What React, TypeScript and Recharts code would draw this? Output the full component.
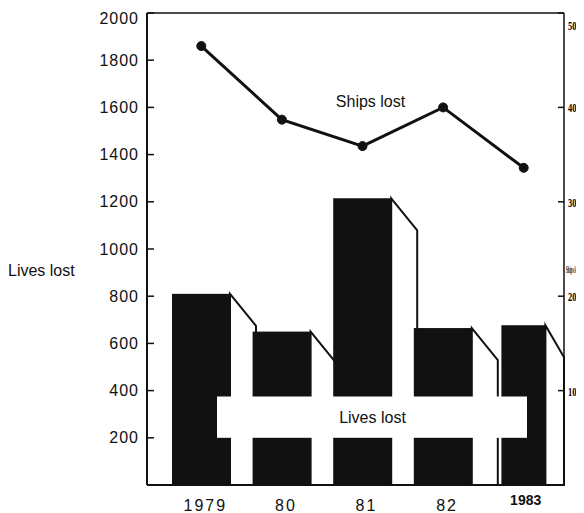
import { ComposedChart, Bar, Line, XAxis, YAxis, ReferenceLine, ReferenceArea, ReferenceDot } from "recharts";

const years = ["1979", "80", "81", "82", "1983"];
const livesLost = [810, 650, 1215, 665, 677];
const shipsLost = [465, 387, 359, 400, 336];

const livesTicks = [200, 400, 600, 800, 1000, 1200, 1400, 1600, 1800, 2000];
const shipsTicks = [100, 200, 300, 400, 500];

// the white "Lives lost" panel: vertical span in lives, horizontal inset from the first/last band
const boxY = [200, 375];
const boxInset = { left: 56, right: 37 };

const data = years.map((year, i) => ({ year, lives: livesLost[i], ships: shipsLost[i] }));

const INK = "#111";
const PLOT_RIGHT = 556;

function BarShape(props: any) {
  const { x, y, width, height, index } = props;
  let w = width;
  let bx = x;
  if (index === years.length - 1) {
    w = 44;
    bx = x + (width - 44) / 2;
  }
  const right = bx + w;
  const dx = Math.min(26, PLOT_RIGHT - right);
  const dy = 32;
  const bottom = y + height;
  return (
    <g>
      <path
        d={`M${right},${y} L${right + dx},${y + dy} L${right + dx},${bottom} L${right},${bottom} Z`}
        fill="#fff"
        stroke={INK}
        strokeWidth={2}
      />
      <rect x={bx} y={y} width={w} height={height} fill={INK} />
    </g>
  );
}

function BoxShape(props: any) {
  const { x, y, width, height } = props;
  return (
    <rect x={x + boxInset.left} y={y} width={width - boxInset.left - boxInset.right} height={height}
      fill="#fff" stroke="none" />
  );
}

function LeftTick({ x, y, payload }: any) {
  const top = payload.value === 2000;
  return (
    <g>
      <line x1={x} x2={x + 7} y1={y} y2={y} stroke={INK} strokeWidth={1.5} />
      <text x={x - 8} y={y} dy={top ? 11 : 5.5} textAnchor="end" fontSize={16} letterSpacing={1} fill={INK}>
        {payload.value}
      </text>
    </g>
  );
}

// the right-hand labels are squeezed narrow, as in the scan
function RightTick({ x, y, payload }: any) {
  const top = payload.value === 500;
  return (
    <g>
      <line x1={x - 6} x2={x} y1={y} y2={y} stroke={INK} strokeWidth={1.5} />
      <g transform={`translate(${x + 4},${y + (top ? 17 : 5)}) scale(0.65,1)`}>
        <text x={0} y={0} textAnchor="start" fontSize={13} fontWeight={700}
          fontFamily="Liberation Serif" fill="#000">
          {payload.value}
        </text>
      </g>
    </g>
  );
}

function XTick({ x, y, payload }: any) {
  const last = payload.value === "1983";
  return (
    <text x={x} y={y} dy={last ? 20 : 26} dx={last ? 2 : 4} textAnchor="middle" fontSize={last ? 14 : 16}
      fontWeight={last ? 700 : 400} letterSpacing={last ? 0 : 2} fill={INK}>
      {payload.value}
    </text>
  );
}

function ShipsAxisLabel(props: any) {
  const { viewBox } = props;
  const x = (viewBox?.x ?? 556) + 2;
  const y = (viewBox?.y ?? 5) + (viewBox?.height ?? 472) / 2 + 24;
  return (
    <g transform={`translate(${x},${y}) scale(0.3,1)`}>
      <text x={0} y={0} fontSize={11} fontWeight={700} fontFamily="Liberation Serif" fill="#000">
        Ships lost
      </text>
    </g>
  );
}

export default function App() {
  return (
    <div style={{ width: 576, height: 505, fontFamily: "'Liberation Sans', Arial, sans-serif" }}>
      <ComposedChart width={576} height={505} data={data} margin={{ top: 5, right: 0, bottom: 0, left: 0 }}>
        <XAxis dataKey="year" height={28} padding={{ left: 14, right: 0 }}
          axisLine={{ stroke: INK, strokeWidth: 2 }} tickLine={false} tickSize={0} tickMargin={0}
          tick={<XTick />} interval={0} />
        <YAxis yAxisId="left" orientation="left" width={139} domain={[0, 2000]} ticks={livesTicks}
          axisLine={{ stroke: INK, strokeWidth: 2 }} tickLine={false} tickSize={0} tickMargin={0}
          tick={<LeftTick />} interval={0}
          label={{ value: "Lives lost", position: "insideLeft", offset: 0, dy: 21, fontSize: 16, fill: INK }} />
        <YAxis yAxisId="right" orientation="right" width={20} domain={[0, 500]} ticks={shipsTicks}
          axisLine={{ stroke: INK, strokeWidth: 1.5 }} tickLine={false} tickSize={0} tickMargin={0}
          tick={<RightTick />} interval={0} label={<ShipsAxisLabel />} />
        <ReferenceLine yAxisId="left" y={2000} stroke={INK} strokeWidth={1.5} />
        <Bar yAxisId="left" dataKey="lives" barSize={58} shape={<BarShape />} isAnimationActive={false} />
        <ReferenceArea yAxisId="left" x1={years[0]} x2={years[years.length - 1]} y1={boxY[0]} y2={boxY[1]}
          shape={<BoxShape />} zIndex={350} ifOverflow="visible"
          label={{ value: "Lives lost", position: "center", dx: 10, fontSize: 16, fill: INK }} />
        <Line yAxisId="right" type="linear" dataKey="ships" stroke={INK} strokeWidth={3}
          dot={{ r: 4.5, fill: INK, stroke: INK, strokeWidth: 1 }} isAnimationActive={false} />
        <ReferenceDot yAxisId="right" x="81" y={406} r={1} fill="none" stroke="none"
          label={{ value: "Ships lost", position: "center", dx: 8, fontSize: 16, fill: INK }} />
      </ComposedChart>
    </div>
  );
}
